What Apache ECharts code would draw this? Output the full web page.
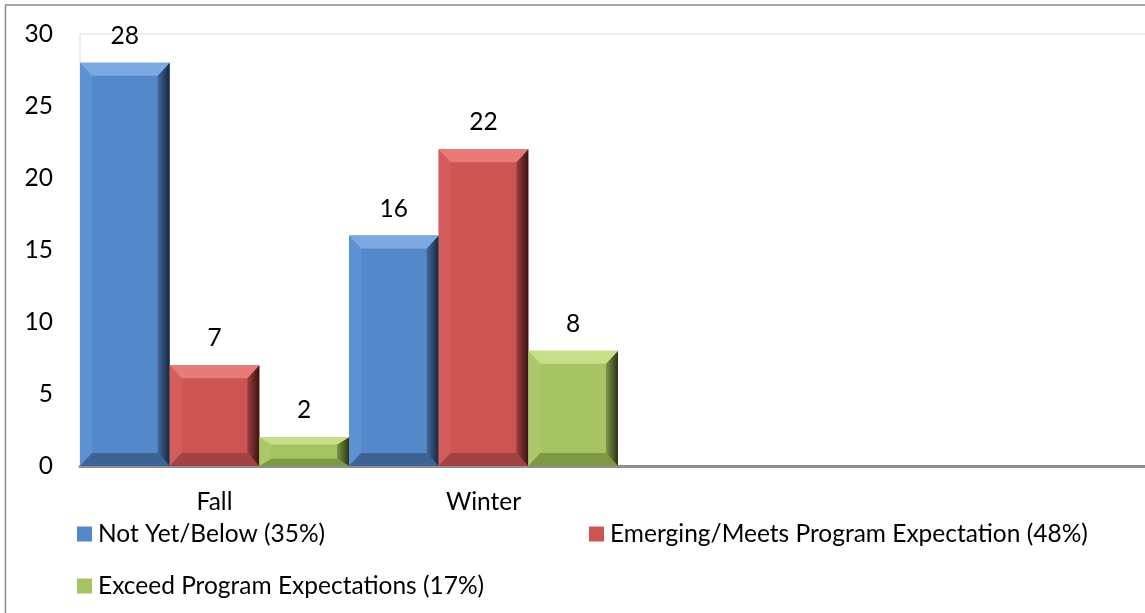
<!DOCTYPE html>
<html>
<head>
<meta charset="utf-8">
<style>
  html, body { margin: 0; padding: 0; background: #ffffff; }
  #chart { width: 1145px; height: 613px; }
</style>
<script src="https://cdn.jsdelivr.net/npm/echarts@6/dist/echarts.min.js"></script>
</head>
<body>
<div id="chart"></div>
<script>
// Terms shown on the category axis (the last two slots are left empty)
const categories = ['Fall', 'Winter', '', ''];

// Series names as they appear in the legend
const seriesNames = [
  'Not Yet/Below (35%)',
  'Emerging/Meets Program Expectation (48%)',
  'Exceed Program Expectations (17%)'
];

// Counts per term for each rating group
const notYetBelow = [28, 16, null, null];
const emergingMeets = [7, 22, null, null];
const exceedExpectations = [2, 8, null, null];

// Value axis ticks
const yTicks = [0, 5, 10, 15, 20, 25, 30];

const seriesValues = [notYetBelow, emergingMeets, exceedExpectations];

// Base fill plus bevel facet shades for each series
const palette = [
  { main: '#5588C9', top: '#7DA9E3', left: '#5E92D2', rightIn: '#41699C', rightOut: '#17273D', bottom: '#3C6393' },
  { main: '#CC5553', top: '#E87A77', left: '#D25D5B', rightIn: '#9E3F3D', rightOut: '#3A1211', bottom: '#A04341' },
  { main: '#A5C362', top: '#C6DF89', left: '#ABC96A', rightIn: '#7C9646', rightOut: '#2C3714', bottom: '#7E9944' }
];

const FONT = 'Lato';
const FS = 24.5;

const chart = echarts.init(document.getElementById('chart'), null, { renderer: 'canvas' });

// Bevel overlay data: [categoryIndex, value, seriesIndex]
const bevelData = [];
seriesValues.forEach((vals, s) => {
  vals.forEach((v, i) => { if (v != null) bevelData.push([i, v, s]); });
});

function renderBevel(params, api) {
  const cat = api.value(0);
  const val = api.value(1);
  const s = api.value(2);
  const base = api.coord([cat, 0]);
  const top = api.coord([cat, val]);
  const band = api.size([1, 0])[0];
  const w = band / 3;
  const x0 = base[0] - band / 2 + s * w;
  const x1 = x0 + w;
  const y0 = top[1];
  const y1 = base[1];
  const h = y1 - y0;
  const bx = Math.min(12, w / 4);
  const by = Math.min(13, h / 4);
  const c = palette[s];
  const poly = (pts, fill) => ({ type: 'polygon', shape: { points: pts }, style: { fill: fill }, silent: true });
  return {
    type: 'group',
    children: [
      poly([[x0, y0], [x0 + bx, y0 + by], [x0 + bx, y1 - by], [x0, y1]], c.left),
      poly([[x0, y1], [x0 + bx, y1 - by], [x1 - bx, y1 - by], [x1, y1]], c.bottom),
      poly([[x1, y0], [x1, y1], [x1 - bx, y1 - by], [x1 - bx, y0 + by]], {
        type: 'linear', x: 0, y: 0, x2: 1, y2: 0,
        colorStops: [{ offset: 0, color: c.rightIn }, { offset: 1, color: c.rightOut }]
      }),
      poly([[x0, y0], [x1, y0], [x1 - bx, y0 + by], [x0 + bx, y0 + by]], c.top)
    ]
  };
}

const barSeries = seriesNames.map((name, s) => ({
  name: name,
  type: 'bar',
  data: seriesValues[s],
  barGap: '0%',
  barCategoryGap: '0%',
  itemStyle: { color: palette[s].main },
  label: {
    show: true,
    position: 'top',
    distance: 14,
    color: '#000000',
    fontFamily: FONT,
    fontSize: FS,
    lineHeight: 26
  },
  emphasis: { disabled: true },
  z: 2
}));

const legendCommon = {
  orient: 'horizontal',
  itemWidth: 15,
  itemHeight: 15,
  itemGap: 6,
  padding: 0,
  icon: 'rect',
  selectedMode: false,
  textStyle: { fontFamily: FONT, fontSize: FS, color: '#000000', lineHeight: 26, padding: [0, 0, 0, 1] }
};

const option = {
  backgroundColor: '#ffffff',
  animation: false,
  grid: {
    left: 80,
    top: 34,
    width: 1076,
    bottom: 147,
    outerBoundsMode: 'none',
    containLabel: false,
    show: true,
    borderColor: '#dedede',
    borderWidth: 1,
    backgroundColor: 'transparent'
  },
  legend: [
    Object.assign({}, legendCommon, { data: [seriesNames[0]], left: 77, top: 521 }),
    Object.assign({}, legendCommon, { data: [seriesNames[1]], left: 589, top: 521 }),
    Object.assign({}, legendCommon, { data: [seriesNames[2]], left: 77, top: 573 })
  ],
  xAxis: {
    type: 'category',
    data: categories,
    boundaryGap: true,
    axisLine: { show: true, lineStyle: { color: '#8f8f8f', width: 3 } },
    axisTick: { show: false },
    axisLabel: { margin: 23, color: '#000000', fontFamily: FONT, fontSize: FS, lineHeight: 26, interval: 0 },
    splitLine: { show: false }
  },
  yAxis: {
    type: 'value',
    min: yTicks[0],
    max: yTicks[yTicks.length - 1],
    interval: yTicks[1] - yTicks[0],
    axisLine: { show: false },
    axisTick: { show: false },
    splitLine: { show: false },
    axisLabel: { margin: 27, color: '#000000', fontFamily: FONT, fontSize: FS }
  },
  graphic: [
    {
      type: 'rect',
      silent: true,
      shape: { x: 5.5, y: 5, width: 1300, height: 800 },
      style: { fill: 'none', stroke: '#8a8a8a', lineWidth: 1.5 },
      z: 100
    }
  ],
  series: barSeries.concat([
    {
      name: 'bevel',
      type: 'custom',
      renderItem: renderBevel,
      data: bevelData,
      encode: { x: 0, y: 1 },
      silent: true,
      z: 3
    }
  ])
};

chart.setOption(option);
</script>
</body>
</html>
